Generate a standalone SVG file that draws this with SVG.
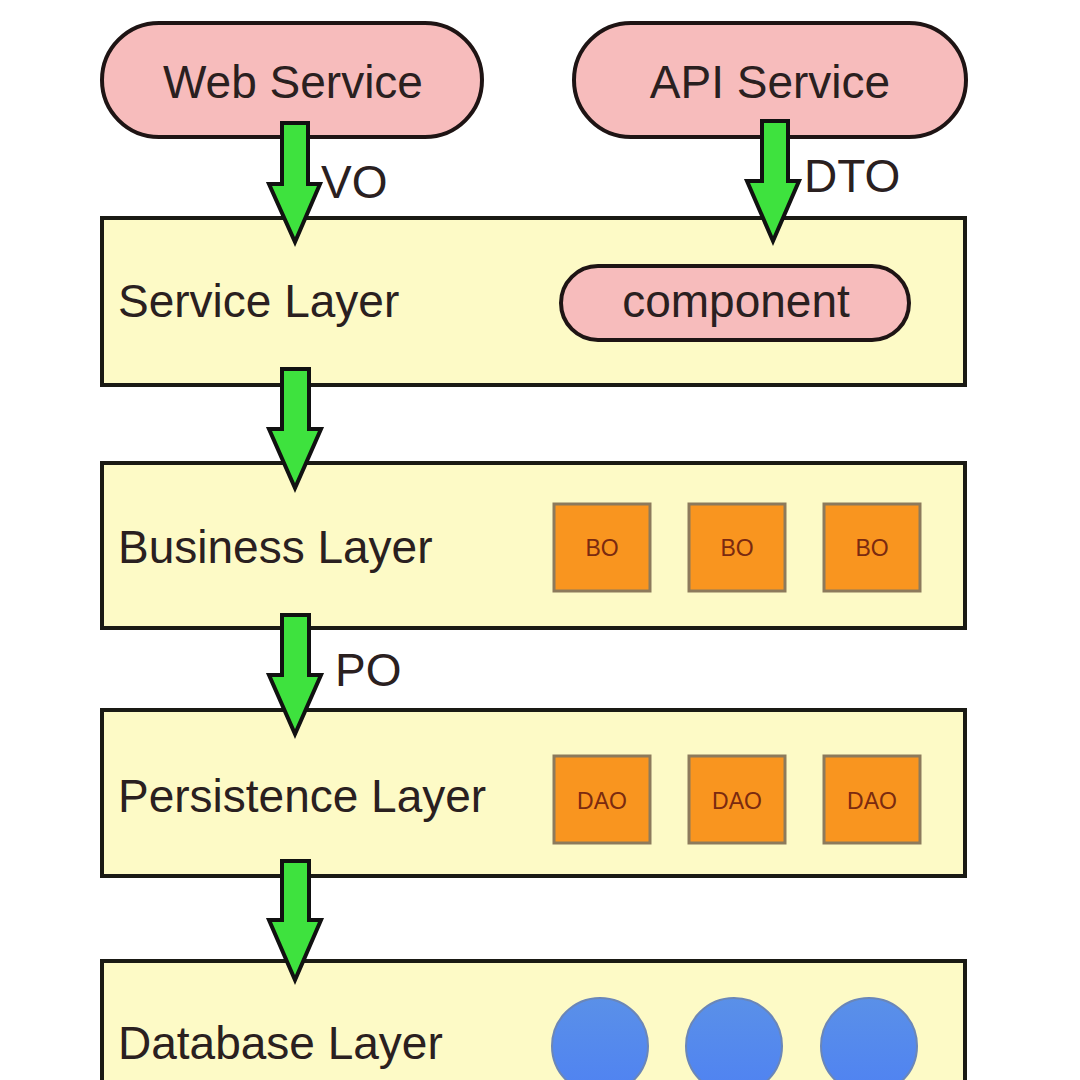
<svg xmlns="http://www.w3.org/2000/svg" width="1080" height="1080" viewBox="0 0 1080 1080">
<defs>
<style>
.pill{fill:#f7bcbc;stroke:#1e1414;stroke-width:4}
.layer{fill:#fdfac6;stroke:#1a1a14;stroke-width:4}
.box{fill:#f9951f;stroke:#8c7a5c;stroke-width:3}
.db{fill:url(#blue);stroke:#6a86b8;stroke-width:2}
.arrow{fill:#3ee23e;stroke:#111;stroke-width:4;stroke-linejoin:miter}
.t{font-family:"Liberation Sans",Arial,sans-serif;fill:#2a2020}
.big{font-size:46px}
.lbl{font-size:46px}
.small{font-size:23px;fill:#7a2a10}
</style>
<linearGradient id="blue" x1="0" y1="0" x2="0" y2="1">
<stop offset="0" stop-color="#5a90e8"/>
<stop offset="1" stop-color="#4f82f2"/>
</linearGradient>
</defs>
<rect width="1080" height="1080" fill="#ffffff"/>

<g id="web-service">
<rect class="pill" x="102" y="23" width="380" height="114" rx="57"/>
<text class="t big" x="293" y="98" text-anchor="middle">Web Service</text>
</g>
<g id="api-service">
<rect class="pill" x="574" y="23" width="392" height="114" rx="57"/>
<text class="t big" x="770" y="98" text-anchor="middle">API Service</text>
</g>

<g id="service-layer">
<rect class="layer" x="102" y="218" width="863" height="167"/>
<text class="t lbl" x="118" y="317">Service Layer</text>
<g id="component">
<rect class="pill" x="561" y="266" width="348" height="74" rx="37"/>
<text class="t lbl" x="736" y="317" text-anchor="middle">component</text>
</g>
</g>

<g id="business-layer">
<rect class="layer" x="102" y="463" width="863" height="165"/>
<text class="t lbl" x="118" y="563">Business Layer</text>
<g id="bo1"><rect class="box" x="554" y="504" width="96" height="87"/><text class="t small" x="602" y="556" text-anchor="middle">BO</text></g>
<g id="bo2"><rect class="box" x="689" y="504" width="96" height="87"/><text class="t small" x="737" y="556" text-anchor="middle">BO</text></g>
<g id="bo3"><rect class="box" x="824" y="504" width="96" height="87"/><text class="t small" x="872" y="556" text-anchor="middle">BO</text></g>
</g>

<g id="persistence-layer">
<rect class="layer" x="102" y="710" width="863" height="166"/>
<text class="t lbl" x="118" y="812">Persistence Layer</text>
<g id="dao1"><rect class="box" x="554" y="756" width="96" height="87"/><text class="t small" x="602" y="809" text-anchor="middle">DAO</text></g>
<g id="dao2"><rect class="box" x="689" y="756" width="96" height="87"/><text class="t small" x="737" y="809" text-anchor="middle">DAO</text></g>
<g id="dao3"><rect class="box" x="824" y="756" width="96" height="87"/><text class="t small" x="872" y="809" text-anchor="middle">DAO</text></g>
</g>

<g id="database-layer">
<rect class="layer" x="102" y="961" width="863" height="140"/>
<text class="t lbl" x="118" y="1059">Database Layer</text>
<ellipse id="db1" class="db" cx="600" cy="1046" rx="48" ry="48"/>
<ellipse id="db2" class="db" cx="734" cy="1046" rx="48" ry="48"/>
<ellipse id="db3" class="db" cx="869" cy="1046" rx="48" ry="48"/>
</g>

<g id="connectors">
<path class="arrow" d="M282,123 H308 V184 H320 L295,242 L269,184 H282 Z"/>
<path class="arrow" d="M762,121 H788 V181 H799 L773,241 L747,181 H762 Z"/>
<path class="arrow" d="M282,369 H309 V429 H321 L295,488 L269,429 H282 Z"/>
<path class="arrow" d="M282,615 H309 V675 H321 L295,734 L269,675 H282 Z"/>
<path class="arrow" d="M282,861 H309 V920 H321 L295,980 L269,920 H282 Z"/>
<text class="t lbl" x="321" y="198">VO</text>
<text class="t lbl" x="804" y="192">DTO</text>
<text class="t lbl" x="335" y="686">PO</text>
</g>
</svg>
